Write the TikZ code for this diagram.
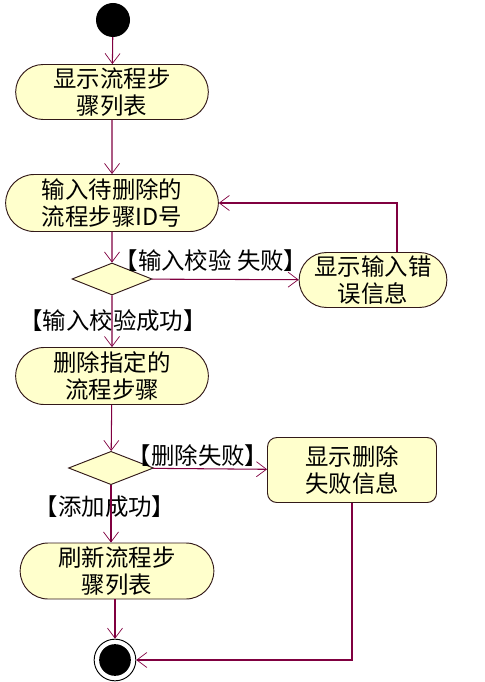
\documentclass[tikz,border=0pt]{standalone}
\usepackage{fontspec}
\setmainfont{Noto Sans CJK SC}
\usepackage{xcolor}
\definecolor{actfill}{RGB}{255,255,204}
\definecolor{flow}{RGB}{128,0,64}
\definecolor{border}{RGB}{50,25,25}
\usepackage{tikz}
\usetikzlibrary{
    shapes.geometric,
    shapes.misc,
    arrows.meta,
    positioning,
    calc
}

\tikzset{
    action/.style={rounded rectangle, draw=border, line width=0.8pt, fill=actfill, align=center,
        inner sep=1pt, font=\fontsize{20}{22.5}\selectfont},
    notebox/.style={rectangle, rounded corners=8pt, draw=border, line width=0.8pt, fill=actfill,
        align=center, inner sep=1pt, font=\fontsize{20}{22.5}\selectfont},
    choice/.style={diamond, draw=border, line width=0.8pt, fill=actfill, inner sep=0pt},
    flowline/.style={draw=flow, line width=0.9pt, -{Straight Barb[length=3mm,width=4.5mm,line width=0.6pt]}},
    guard/.style={font=\fontsize{20}{22}\selectfont, inner sep=0pt}
}

\begin{document}
\begin{tikzpicture}[x=0.03cm, y=-0.03cm]
        \useasboundingbox (0,0) rectangle (485,682);

        % Start and end
        \node (start) [circle, fill=black, minimum size=1.02cm, inner sep=0pt] at (113,20) {};
        \node (stop) [circle, draw=black, line width=0.8pt, fill=white, minimum size=1.25cm, inner sep=0pt] at (115,660) {};
        \node [circle, fill=black, minimum size=0.95cm, inner sep=0pt] at (stop) {};

        % Actions
        \node (show) [action, minimum width=5.85cm, minimum height=1.65cm] at (112,92) {显示流程步\\骤列表};
        \node (input) [action, minimum width=6.45cm, minimum height=1.71cm] at (112,203) {输入待删除的\\流程步骤ID号};
        \node (check) [choice, minimum width=2.4cm, minimum height=0.96cm] at (112,279) {};
        \node (err1) [action, minimum width=4.4cm, minimum height=1.65cm] at (373,280) {显示输入错\\误信息};
        \node (delete) [action, minimum width=5.85cm, minimum height=1.71cm] at (112,376) {删除指定的\\流程步骤};
        \node (result) [choice, minimum width=2.55cm, minimum height=1cm] at (111,468) {};
        \node (err2) [notebox, minimum width=5.07cm, minimum height=1.95cm] at (352,470) {显示删除\\失败信息};
        \node (refresh) [action, minimum width=5.88cm, minimum height=1.68cm] at (117,571) {刷新流程步\\骤列表};

        % Guards
        \node (g1) [guard] at (211,261) {【输入校验 失败】};
        \node (g2) [guard] at (113,321) {【输入校验成功】};
        \node (g3) [guard] at (198,456) {【删除失败】};
        \node (g4) [guard] at (105,507) {【添加成功】};

        % Flow
        \draw[flowline] (start) -- (show);
        \draw[flowline] (show) -- (input);
        \draw[flowline] (input) -- (check);
        \draw[flowline] (check) -- (err1);
        \draw[flowline] ([xshift=0.72cm]err1.north) |- (input.east);
        \draw[flowline] (check) -- (delete);
        \draw[flowline] (delete) -- (result);
        \draw[flowline] (result) -- (err2);
        \draw[flowline] (result.south) -- (refresh.north -| result.south);
        \draw[flowline] (refresh.south -| stop.north) -- (stop);
        \draw[flowline] (err2) |- (stop);
    \end{tikzpicture}
\end{document}
